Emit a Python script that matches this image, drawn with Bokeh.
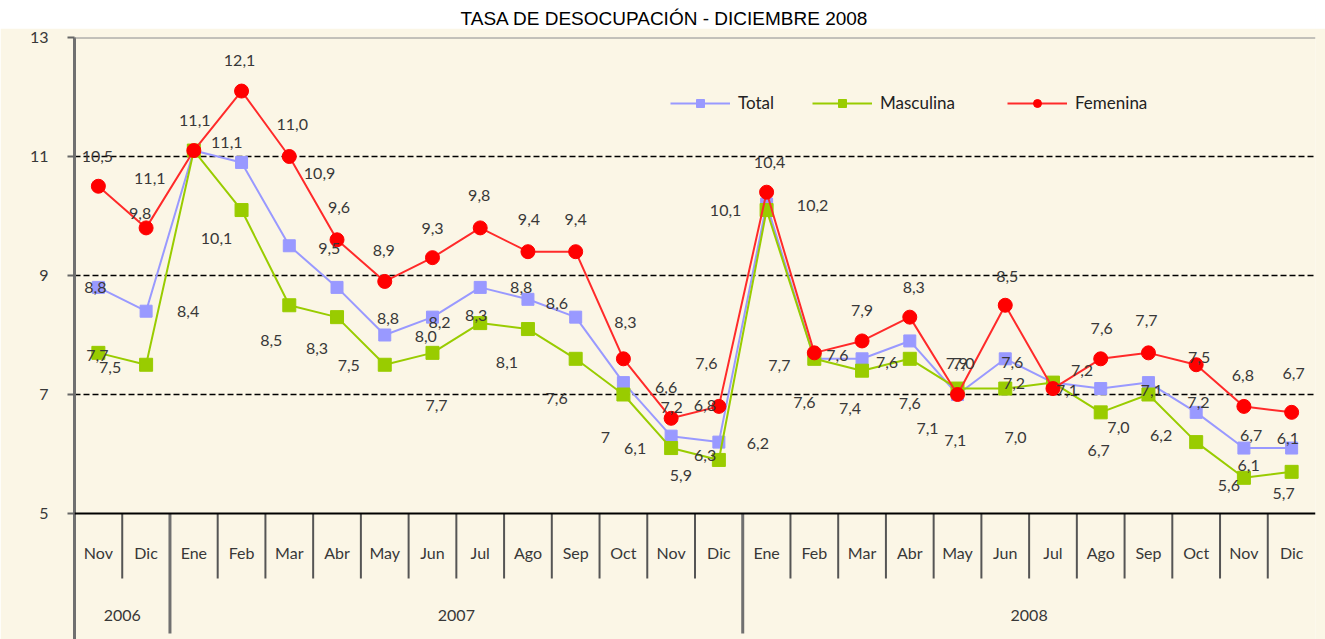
from bokeh.plotting import figure
from bokeh.models import Range1d, FixedTicker, Span, Legend, LegendItem
from bokeh.layouts import column
from bokeh.embed import file_html
from bokeh.resources import INLINE
from bokeh.core.properties import value

TITLE = "TASA DE DESOCUPACIÓN - DICIEMBRE 2008"
months = ["Nov", "Dic", "Ene", "Feb", "Mar", "Abr", "May", "Jun", "Jul", "Ago", "Sep", "Oct", "Nov",
          "Dic", "Ene", "Feb", "Mar", "Abr", "May", "Jun", "Jul", "Ago", "Sep", "Oct", "Nov", "Dic"]
years = ["2006"] * 2 + ["2007"] * 12 + ["2008"] * 12
total = [8.8, 8.4, 11.1, 10.9, 9.5, 8.8, 8.0, 8.3, 8.8, 8.6, 8.3, 7.2, 6.3,
         6.2, 10.2, 7.6, 7.6, 7.9, 7.0, 7.6, 7.2, 7.1, 7.2, 6.7, 6.1, 6.1]
masculina = [7.7, 7.5, 11.1, 10.1, 8.5, 8.3, 7.5, 7.7, 8.2, 8.1, 7.6, 7.0, 6.1,
             5.9, 10.1, 7.6, 7.4, 7.6, 7.1, 7.1, 7.2, 6.7, 7.0, 6.2, 5.6, 5.7]
femenina = [10.5, 9.8, 11.1, 12.1, 11.0, 9.6, 8.9, 9.3, 9.8, 9.4, 9.4, 7.6, 6.6,
            6.8, 10.4, 7.7, 7.9, 8.3, 7.0, 8.5, 7.1, 7.6, 7.7, 7.5, 6.8, 6.7]
# data-label texts as printed on the chart
total_labels = ["8,8", "8,4", "11,1", "10,9", "9,5", "8,8", "8,0", "8,2", "8,8", "8,6", "7,2", "7,6", "6,3",
                "6,2", "10,2", "7,6", "7,6", "7,9", "7,0", "7,6", "7,2", "7,1", "7,2", "6,7", "6,1", "6,1"]
masc_labels = ["7,7", "7,5", "11,1", "10,1", "8,5", "8,3", "7,5", "7,7", "8,3", "8,1", "7,6", "7", "6,1",
               "5,9", "10,1", "7,6", "7,4", "7,6", "7,1", "7,1", "7,2", "6,7", "7,0", "6,2", "5,6", "5,7"]
fem_labels = ["10,5", "9,8", "11,1", "12,1", "11,0", "9,6", "8,9", "9,3", "9,8", "9,4", "9,4", "8,3", "6,6",
              "6,8", "10,4", "7,7", "7,9", "8,3", "7,0", "8,5", "7,1", "7,6", "7,7", "7,5", "6,8", "6,7"]
y_ticks = [5, 7, 9, 11, 13]
grid_ticks = [7, 9, 11]

# ---- label placement (screen pixel offsets from each point) ----
tot_dx = [-3, 42, 33, 78, 40, 51, 41, 7, 41, 29, 96, 83, 34, 39, 46, 23, 25, 47, 58, 7, 29, 51, 50, 55, 44, -43]
tot_dy = [0, 0, -8, 11, 3, 31, 1, 5, 0, 4, 90, -19, 19, 1, 1, -3, 4, 23, 43, 4, -12, 2, 20, 23, -10, 17]
masc_dx = [-1, -36, -44, -25, -18, -20, -36, 4, -4, -21, -19, -18, -36, -38, -41, -10, -12, 0, -30, -50, -39, -2, -30, -35, -15, -8]
masc_dy = [3, 3, 28, 28, 35, 31, 1, 53, -8, 33, 40, 43, 0, 16, 0, 44, 38, 45, 40, 52, 1, 38, 33, -7, 8, 22]
fem_dx = [-1, -6, 1, -2, 3, 2, -1, 0, -1, 1, 0, 2, -5, -14, 3, -35, 0, 4, 6, 2, 14, 1, -2, 3, -1, 2]
fem_dy = [-30, -14, -30, -31, -32, -32, -31, -29, -32, -32, -32, -36, -31, -1, -30, 13, -30, -30, -31, -29, 2, -30, -32, -7, -31, -39]

CREAM = "#FBF6E6"
W = 1325
TH = 28                  # title strip height
H = 639 - TH
TOP, LEFT, RIGHT, BOTTOM = 37 - TH, 74, 10, 0
PX = 476 / 8.0          # pixels per unit on the y axis
Y_TOP = 13
Y0 = Y_TOP - (H - TOP - BOTTOM) / PX
AXIS_Y = 5

FONT = "Lato"
TXT = "#383838"

n = len(months)
xs = [i + 0.5 for i in range(n)]

# ---- title strip (its frame is aligned with the chart frame by the column layout) ----
t = figure(width=W, height=TH, x_range=Range1d(LEFT, W - RIGHT), y_range=Range1d(0, TH),
           x_axis_type=None, y_axis_type=None, toolbar_location=None, output_backend="svg",
           min_border=0, outline_line_color=None, background_fill_color="white",
           border_fill_color="white")
t.xgrid.visible = False
t.ygrid.visible = False
t.text(x=[664], y=[TH - 18], text=[TITLE], text_font=value("Liberation Sans"), text_font_size="19px",
       text_color="black", text_align="center", text_baseline="middle")

# ---- main chart ----
p = figure(width=W, height=H, x_range=Range1d(0, n), y_range=Range1d(Y0, Y_TOP),
           x_axis_type=None, toolbar_location=None, output_backend="svg",
           min_border_left=LEFT, min_border_right=RIGHT, min_border_top=TOP, min_border_bottom=BOTTOM,
           background_fill_color=CREAM, border_fill_color=CREAM, outline_line_color=None)

p.yaxis.ticker = FixedTicker(ticks=y_ticks)
p.yaxis.minor_tick_line_color = None
p.yaxis.major_tick_in = 0
p.yaxis.major_tick_out = 7
p.yaxis.major_tick_line_color = "#666666"
p.yaxis.major_tick_line_width = 2
p.yaxis.axis_line_color = "#707070"
p.yaxis.axis_line_width = 3
p.yaxis.major_label_standoff = 19
p.yaxis.major_label_text_font = FONT
p.yaxis.major_label_text_font_size = "16px"
p.yaxis.major_label_text_color = TXT

p.xgrid.visible = False
p.ygrid.ticker = FixedTicker(ticks=grid_ticks)
p.ygrid.grid_line_color = "black"
p.ygrid.grid_line_dash = "6 3"
p.ygrid.grid_line_width = 1.5

p.add_layout(Span(location=Y_TOP, dimension="width", line_color="#8a8a8a", line_width=2))
p.add_layout(Span(location=AXIS_Y, dimension="width", line_color="black", line_width=2))

# category separators below the axis
short_b, long_b = [], []
for i in range(1, n):
    (long_b if years[i] != years[i - 1] else short_b).append(i)
p.segment(x0=short_b, y0=[AXIS_Y] * len(short_b), x1=short_b, y1=[AXIS_Y - 65 / PX] * len(short_b),
          line_color="#555555", line_width=2)
p.segment(x0=long_b, y0=[AXIS_Y] * len(long_b), x1=long_b, y1=[AXIS_Y - 120 / PX] * len(long_b),
          line_color="#707070", line_width=3)

p.text(x=xs, y=[AXIS_Y] * n, text=months, y_offset=39, text_font=value(FONT), text_font_size="16px",
       text_color=TXT, text_align="center", text_baseline="middle")
groups = []
for yr in dict.fromkeys(years):
    idx = [i for i, v in enumerate(years) if v == yr]
    groups.append(((idx[0] + idx[-1] + 1) / 2, yr))
p.text(x=[g[0] for g in groups], y=[AXIS_Y] * len(groups), text=[g[1] for g in groups], y_offset=102,
       text_font=value(FONT), text_font_size="16px", text_color=TXT,
       text_align="center", text_baseline="middle")

# series
BLUE, GREEN, RED = "#9999FF", "#99CC00", "#FF0000"
l_t = p.line(xs, total, line_color=BLUE, line_width=2)
s_t = p.scatter(xs, total, marker="square", size=12, fill_color=BLUE, line_color=BLUE)
l_m = p.line(xs, masculina, line_color=GREEN, line_width=2)
s_m = p.scatter(xs, masculina, marker="square", size=13, fill_color=GREEN, line_color=GREEN)
l_f = p.line(xs, femenina, line_color="#FF2A2A", line_width=2)
s_f = p.scatter(xs, femenina, marker="circle", size=14, fill_color=RED, line_color=RED)

for vals, labs, dx, dy in ((total, total_labels, tot_dx, tot_dy),
                           (masculina, masc_labels, masc_dx, masc_dy),
                           (femenina, fem_labels, fem_dx, fem_dy)):
    p.text(x=xs, y=vals, text=labs, x_offset=dx, y_offset=dy, text_font=value(FONT),
           text_font_size="16px", text_color=TXT, text_align="center", text_baseline="middle")

# legend: one item per box, placed where the reference shows them (legend centre at page y 103)
LEG_Y = H - TOP - (103 + 10 - TH - TOP)
for name, rends, x0 in (("Total", [l_t, s_t], 670),
                        ("Masculina", [l_m, s_m], 812),
                        ("Femenina", [l_f, s_f], 1007)):
    lg = Legend(items=[LegendItem(label=name, renderers=rends)], location=(x0 - LEFT, LEG_Y),
                orientation="horizontal", glyph_width=60, glyph_height=20, label_standoff=8,
                padding=0, margin=0, border_line_color=None, background_fill_alpha=0,
                label_text_font=FONT, label_text_font_size="17px", label_text_color="#222222")
    p.add_layout(lg)

layout = column(t, p, spacing=0)
open("out.html", "w").write(file_html(layout, INLINE))
